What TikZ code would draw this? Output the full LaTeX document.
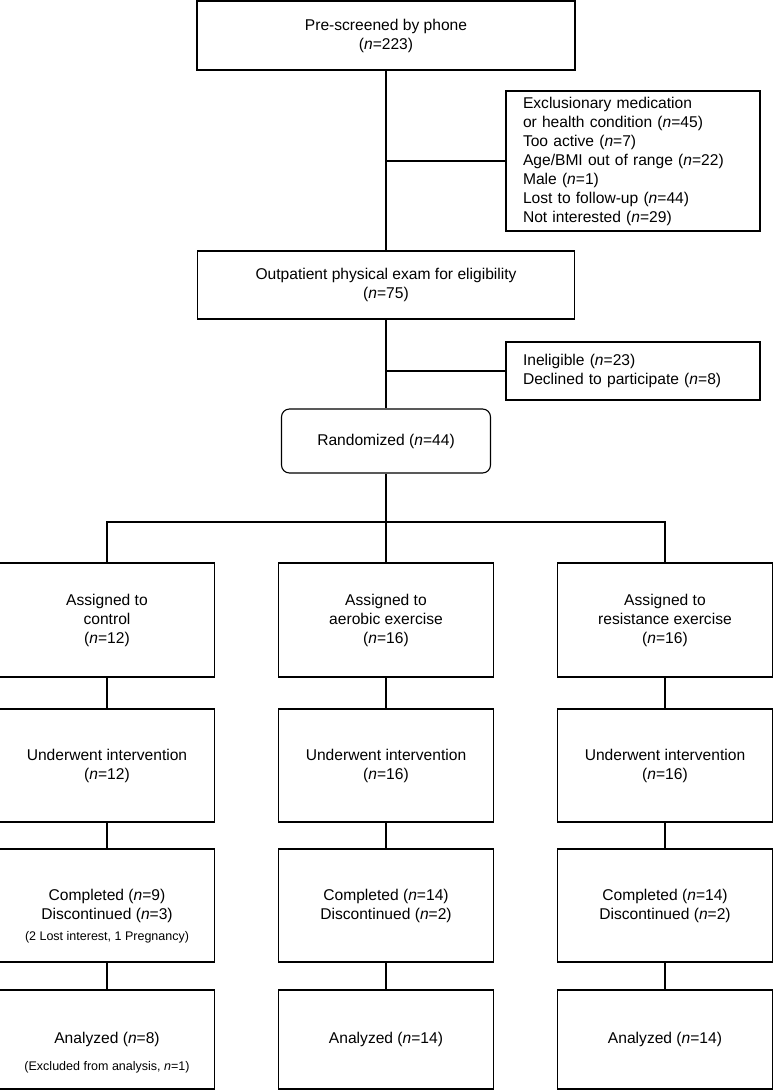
\documentclass[tikz,border=0pt]{standalone}
\usepackage{fontspec}
\setmainfont{Liberation Sans}
\usepackage{tikz}
\usetikzlibrary{positioning}

\newcommand{\nval}[1]{(\textit{n}=#1)}

\begin{document}
\begin{tikzpicture}[x=1pt, y=-1pt, on grid, line width=1.1pt,
    font=\fontsize{15.6}{19}\selectfont,
    box/.style={draw, align=center, inner sep=0pt, minimum width=215pt, minimum height=113pt},
    rbox/.style={box, rounded corners=8pt, minimum width=209pt, minimum height=64pt},
    list/.style={draw, align=left, inner xsep=17pt, inner ysep=0pt, text width=220pt},
    note/.style={font=\fontsize{12.5}{15}\selectfont}]
  \useasboundingbox (0,0) rectangle (780,1092);

  % main column
  \node[box, minimum width=378pt, minimum height=69pt] (screen) at (386,35.5) {Pre-screened by phone\\\nval{223}};
  \node[box, minimum width=377pt, minimum height=68pt, below=249.5pt of screen] (exam) {Outpatient physical exam for eligibility\\\nval{75}};
  \node[rbox, below=156pt of exam] (rand) {Randomized \nval{44}};

  % exclusions
  \node[list, minimum height=140pt] (excl) at (633,161) {Exclusionary medication\\or health condition \nval{45}\\Too active \nval{7}\\Age/BMI out of range \nval{22}\\Male \nval{1}\\Lost to follow-up \nval{44}\\Not interested \nval{29}};
  \node[list, minimum height=58pt] (inel) at (633,371) {Ineligible \nval{23}\\Declined to participate \nval{8}};

  % arms
  \node[box, minimum height=114pt, below=179pt of rand] (b1) {Assigned to\\aerobic exercise\\\nval{16}};
  \node[box, minimum height=114pt, left=279pt of b1] (a1) {Assigned to\\control\\\nval{12}};
  \node[box, minimum height=114pt, right=279pt of b1] (c1) {Assigned to\\resistance exercise\\\nval{16}};

  \node[box, below=145.5pt of a1] (a2) {Underwent intervention\\\nval{12}};
  \node[box, below=145.5pt of b1] (b2) {Underwent intervention\\\nval{16}};
  \node[box, below=145.5pt of c1] (c2) {Underwent intervention\\\nval{16}};

  \node[box, below=140pt of a2] (a3) {Completed \nval{9}\\Discontinued \nval{3}};
  \node[box, below=140pt of b2] (b3) {Completed \nval{14}\\Discontinued \nval{2}};
  \node[box, below=140pt of c2] (c3) {Completed \nval{14}\\Discontinued \nval{2}};
  \node[note] (a3note) at ([yshift=-32pt]a3.center) {(2 Lost interest, 1 Pregnancy)};

  \node[box, minimum height=99pt, below=134pt of a3] (a4) {Analyzed \nval{8}};
  \node[box, minimum height=99pt, below=134pt of b3] (b4) {Analyzed \nval{14}};
  \node[box, minimum height=99pt, below=134pt of c3] (c4) {Analyzed \nval{14}};
  \node[note] (a4note) at ([yshift=-28pt]a4.center) {(Excluded from analysis, \textit{n}=1)};

  \coordinate (split) at (386,522);

  \path
    (screen) edge (exam)
    (exam)   edge (rand)
    (a1) edge (a2)  (a2) edge (a3)  (a3) edge (a4)
    (b1) edge (b2)  (b2) edge (b3)  (b3) edge (b4)
    (c1) edge (c2)  (c2) edge (c3)  (c3) edge (c4);
  \draw (screen.south |- excl.west) -- (excl.west);
  \draw (exam.south |- inel.west) -- (inel.west);
  \draw (rand) -- (split);
  \draw (a1.north) |- (split) -| (c1.north);
  \draw (split) -- (b1);
\end{tikzpicture}
\end{document}
